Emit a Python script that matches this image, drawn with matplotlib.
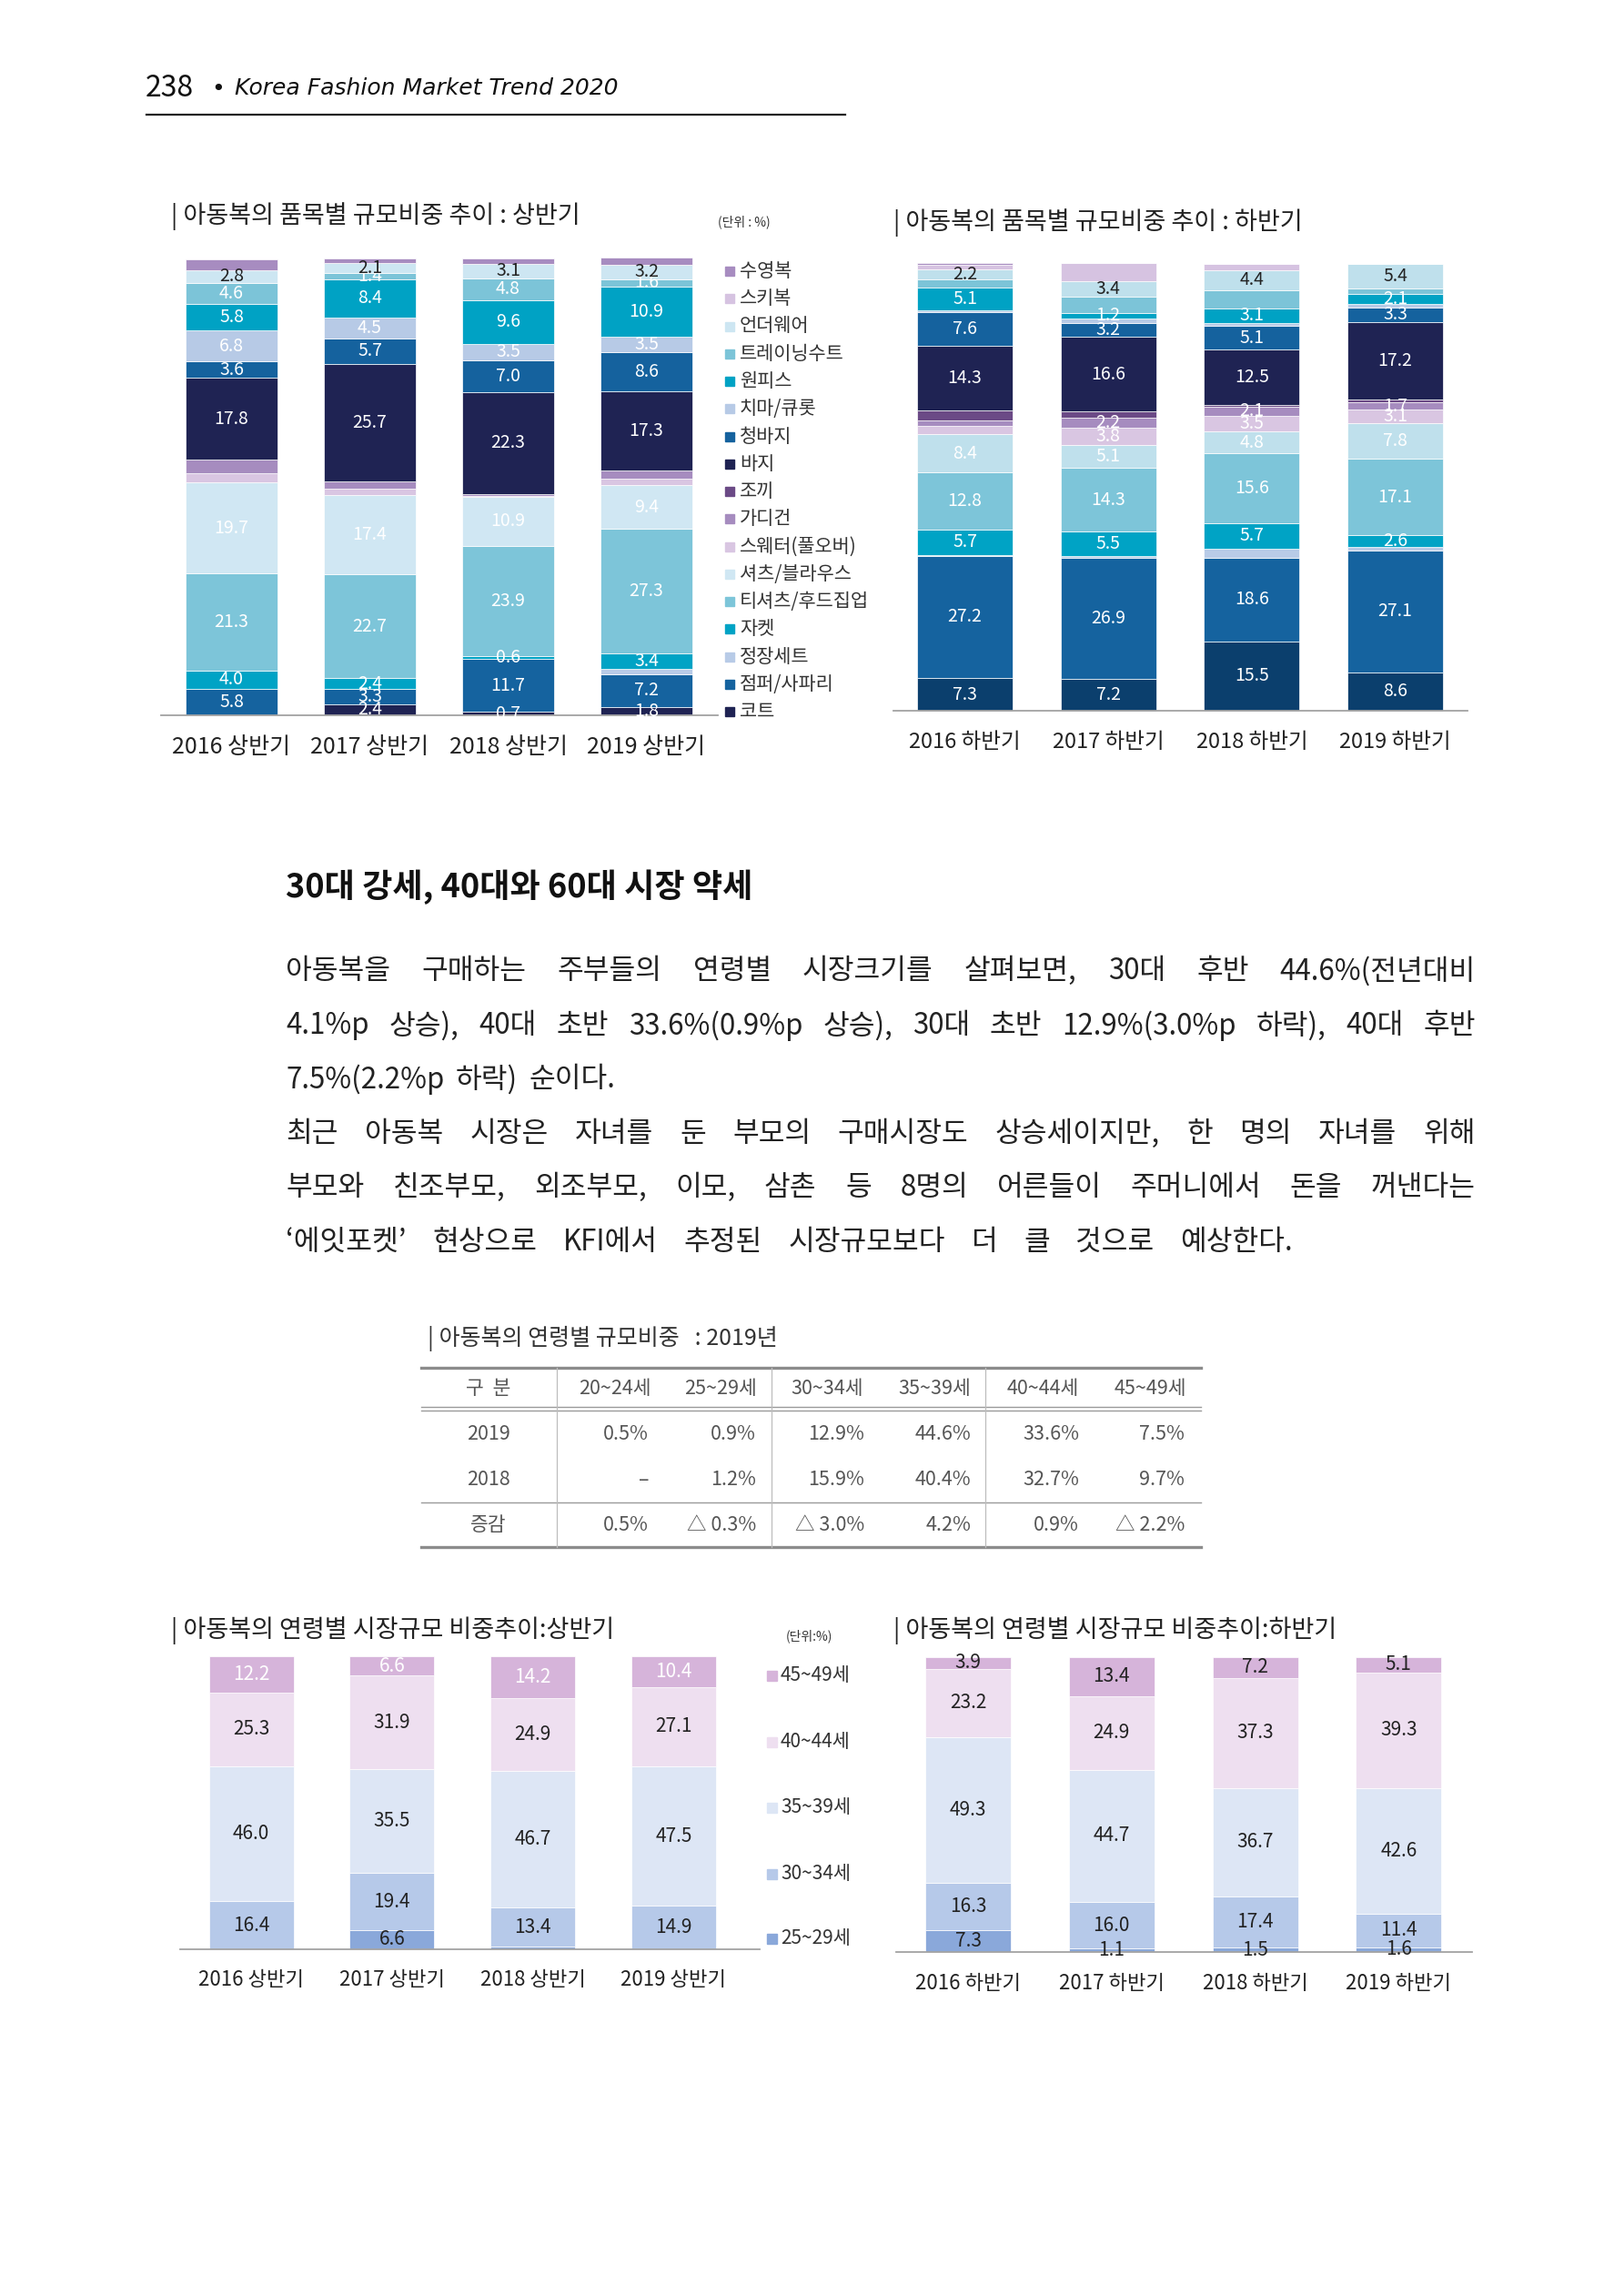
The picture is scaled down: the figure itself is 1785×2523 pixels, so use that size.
import matplotlib
matplotlib.use('Agg')
import matplotlib.pyplot as plt
from matplotlib.lines import Line2D
from matplotlib.patches import Rectangle

W, H = 1785, 2523
KR = ['Noto Sans CJK KR', 'DejaVu Sans']
NARROW = ['Liberation Sans Narrow', 'Noto Sans CJK KR', 'DejaVu Sans']
plt.rcParams['font.family'] = KR

# ---------------- data ----------------
# stacking order, bottom -> top
items = ['코트', '점퍼/사파리', '정장세트', '자켓', '티셔츠/후드집업', '셔츠/블라우스',
         '스웨터(풀오버)', '가디건', '조끼', '바지', '청바지', '치마/큐롯', '원피스',
         '트레이닝수트', '언더웨어', '스키복', '수영복']

h1_years = ['2016 상반기', '2017 상반기', '2018 상반기', '2019 상반기']
h2_years = ['2016 하반기', '2017 하반기', '2018 하반기', '2019 하반기']

h1_share = [
    [0.0, 2.4, 0.7, 1.8],       # 코트
    [5.8, 3.3, 11.7, 7.2],      # 점퍼/사파리
    [0.0, 0.0, 0.0, 1.1],       # 정장세트
    [4.0, 2.4, 0.6, 3.4],       # 자켓
    [21.3, 22.7, 23.9, 27.3],   # 티셔츠/후드집업
    [19.7, 17.4, 10.9, 9.4],    # 셔츠/블라우스
    [2.1, 1.3, 0.2, 1.5],       # 스웨터
    [3.0, 1.5, 0.3, 1.7],       # 가디건
    [0.0, 0.0, 0.0, 0.0],       # 조끼
    [17.8, 25.7, 22.3, 17.3],   # 바지
    [3.6, 5.7, 7.0, 8.6],       # 청바지
    [6.8, 4.5, 3.5, 3.5],       # 치마/큐롯
    [5.8, 8.4, 9.6, 10.9],      # 원피스
    [4.6, 1.4, 4.8, 1.6],       # 트레이닝수트
    [2.8, 2.1, 3.1, 3.2],       # 언더웨어
    [0.0, 0.0, 0.0, 0.0],       # 스키복
    [2.3, 1.1, 1.2, 1.5],       # 수영복
]

h2_share = [
    [7.3, 7.2, 15.5, 8.6],      # 코트
    [27.2, 26.9, 18.6, 27.1],   # 점퍼/사파리
    [0.2, 0.3, 2.0, 0.8],       # 정장세트
    [5.7, 5.5, 5.7, 2.6],       # 자켓
    [12.8, 14.3, 15.6, 17.1],   # 티셔츠/후드집업
    [8.4, 5.1, 4.8, 7.8],       # 셔츠/블라우스
    [1.8, 3.8, 3.5, 3.1],       # 스웨터
    [1.4, 2.2, 2.1, 1.7],       # 가디건
    [2.2, 1.4, 0.3, 0.6],       # 조끼
    [14.3, 16.6, 12.5, 17.2],   # 바지
    [7.6, 3.2, 5.1, 3.3],       # 청바지
    [0.3, 1.0, 0.8, 0.8],       # 치마/큐롯
    [5.1, 1.2, 3.1, 2.1],       # 원피스
    [1.8, 3.6, 4.2, 1.4],       # 트레이닝수트
    [2.2, 3.4, 4.4, 5.4],       # 언더웨어
    [1.0, 4.0, 1.4, 0.0],       # 스키복
    [0.5, 0.0, 0.0, 0.0],       # 수영복
]

h1_labeled = ['코트', '점퍼/사파리', '자켓', '티셔츠/후드집업', '셔츠/블라우스', '바지',
              '청바지', '치마/큐롯', '원피스', '트레이닝수트', '언더웨어']
h2_labeled = ['코트', '점퍼/사파리', '자켓', '티셔츠/후드집업', '셔츠/블라우스',
              '스웨터(풀오버)', '가디건', '바지', '청바지', '원피스', '언더웨어']
h2_unlabeled = [('2016 하반기', '스웨터(풀오버)'), ('2016 하반기', '가디건')]

ages = ['25~29세', '30~34세', '35~39세', '40~44세', '45~49세']
age_h1 = [
    [0.0, 6.6, 0.8, 0.0],
    [16.4, 19.4, 13.4, 14.9],
    [46.0, 35.5, 46.7, 47.5],
    [25.3, 31.9, 24.9, 27.1],
    [12.2, 6.6, 14.2, 10.4],
]
age_h2 = [
    [7.3, 1.1, 1.5, 1.6],
    [16.3, 16.0, 17.4, 11.4],
    [49.3, 44.7, 36.7, 42.6],
    [23.2, 24.9, 37.3, 39.3],
    [3.9, 13.4, 7.2, 5.1],
]

table_cols = ['20~24세', '25~29세', '30~34세', '35~39세', '40~44세', '45~49세']
share_2019 = [0.5, 0.9, 12.9, 44.6, 33.6, 7.5]
share_2018 = [None, 1.2, 15.9, 40.4, 32.7, 9.7]

para_lines = [
    '아동복을 구매하는 주부들의 연령별 시장크기를 살펴보면, 30대 후반 44.6%(전년대비',
    '4.1%p 상승), 40대 초반 33.6%(0.9%p 상승), 30대 초반 12.9%(3.0%p 하락), 40대 후반',
    '7.5%(2.2%p 하락) 순이다.',
    '최근 아동복 시장은 자녀를 둔 부모의 구매시장도 상승세이지만, 한 명의 자녀를 위해',
    '부모와 친조부모, 외조부모, 이모, 삼촌 등 8명의 어른들이 주머니에서 돈을 꺼낸다는',
    '‘에잇포켓’ 현상으로 KFI에서 추정된 시장규모보다 더 클 것으로 예상한다.',
]

# ---------------- colours ----------------
item_colors = {
    '수영복': '#a78cc0', '스키복': '#d6c3e1', '언더웨어': '#cde6f2', '트레이닝수트': '#7cc4d8',
    '원피스': '#00a2c4', '치마/큐롯': '#b7cae6', '청바지': '#15629e', '바지': '#1f2353',
    '조끼': '#6b4a86', '가디건': '#a68cbf', '스웨터(풀오버)': '#d9c6e2', '셔츠/블라우스': '#d0e7f3',
    '티셔츠/후드집업': '#7dc5d9', '자켓': '#00a3c5', '정장세트': '#b8cbe7', '점퍼/사파리': '#15639f',
    '코트': '#1f2353',
}
item_colors_h2 = dict(item_colors, 코트='#0b3f6d', 언더웨어='#bfe0ec', **{'셔츠/블라우스': '#bfe0ec'})
age_colors = {'25~29세': '#8aa8da', '30~34세': '#b6c9e9', '35~39세': '#dde6f5',
              '40~44세': '#eedff0', '45~49세': '#d6b4da'}

fig = plt.figure(figsize=(W / 100, H / 100), dpi=100)
renderer = fig.canvas.get_renderer()


def fx(x):
    return x / W


def fy(y):
    return 1 - y / H


def ftext(x, y, s, **kw):
    return fig.text(fx(x), fy(y), s, **kw)


def fline(xs, ys, lw=1.0, color='#888888'):
    fig.add_artist(Line2D([fx(v) for v in xs], [fy(v) for v in ys], lw=lw, color=color))


def make_axes(x0, x1, y_top, y_base, c0, step):
    ax = fig.add_axes([fx(x0), fy(y_base), (x1 - x0) / W, (y_base - y_top) / H])
    ax.set_xlim((x0 - c0) / step, (x1 - c0) / step)
    ax.set_ylim(0, 100)
    for s in ['top', 'right', 'left']:
        ax.spines[s].set_visible(False)
    ax.spines['bottom'].set_color('#a3a3a3')
    ax.spines['bottom'].set_linewidth(1.3)
    ax.set_yticks([])
    ax.set_xticks([])
    ax.patch.set_alpha(0)
    return ax


def stack(ax, rows, names, colors, years, width, label_color, fs, family):
    bottom = [0.0] * len(years)
    for name, vals in zip(names, rows):
        ax.bar(range(len(years)), vals, width, bottom=bottom, color=colors[name],
               edgecolor='white', linewidth=0.5)
        for i, v in enumerate(vals):
            col = label_color(years[i], name, v)
            if col:
                ax.text(i, bottom[i] + v / 2, f'{v:.1f}', ha='center', va='center',
                        color=col, fontsize=fs, family=family, clip_on=False)
        bottom = [b + v for b, v in zip(bottom, vals)]


def year_labels(ax, years, dy_px, fs, family):
    h_px = ax.get_position().height * H
    for i, y in enumerate(years):
        ax.text(i, -dy_px / h_px, y, ha='center', va='center', fontsize=fs, family=family,
                color='#222222', transform=ax.get_xaxis_transform())


def legend(names, colors, x_sq, x_txt, ys, size, fs, family):
    for n, y in zip(names, ys):
        fig.add_artist(Rectangle((fx(x_sq), fy(y + size / 2)), size / W, size / H,
                                 color=colors[n], transform=fig.transFigure))
        ftext(x_txt, y, n, ha='left', va='center', fontsize=fs, family=family, color='#333333')


# ---------------- page header ----------------
ftext(160, 97, '238', ha='left', va='center', fontsize=23, family=NARROW, color='#111111')
ftext(232, 98, '•', ha='left', va='center', fontsize=18, family=['DejaVu Sans'], color='#111111')
ftext(258, 97, 'Korea Fashion Market Trend 2020', ha='left', va='center', fontsize=18,
      family=['DejaVu Sans'], style='italic', color='#111111')
fline([161, 929], [126, 126], lw=1.6, color='#222222')

# ---------------- top-left: 상반기 items ----------------
ftext(188, 238, '| 아동복의 품목별 규모비중 추이 : 상반기', ha='left', va='center', fontsize=19.5, color='#222222')
ftext(789, 244, '(단위 : %)', ha='left', va='center', fontsize=10, color='#333333')
ax1 = make_axes(177, 789, 283, 786, 254.5, 152)


def h1_label(year, name, v):
    if v <= 0 or name not in h1_labeled:
        return None
    return '#222222' if name == '언더웨어' else 'white'


stack(ax1, h1_share, items, item_colors, h1_years, 101 / 152, h1_label, 14, KR)
year_labels(ax1, h1_years, 35, 18, KR)
legend(items[::-1], item_colors, 797, 813, [298 + 30.25 * k for k in range(len(items))], 10, 15, KR)

# ---------------- top-right: 하반기 items ----------------
ftext(982, 245, '| 아동복의 품목별 규모비중 추이 : 하반기', ha='left', va='center', fontsize=19.5, color='#222222')
ax2 = make_axes(982, 1613, 288, 781, 1060.5, 157.7)


def h2_label(year, name, v):
    if v <= 0 or name not in h2_labeled or (year, name) in h2_unlabeled:
        return None
    return '#222222' if name == '언더웨어' else 'white'


stack(ax2, h2_share, items, item_colors_h2, h2_years, 105 / 157.7, h2_label, 14, KR)
year_labels(ax2, h2_years, 35, 17, KR)

# ---------------- heading & paragraph ----------------
ftext(314, 975, '30대 강세, 40대와 60대 시장 약세', ha='left', va='center', fontsize=26,
      weight='bold', color='#111111')

para_y = [1067, 1127, 1186, 1246, 1305, 1365]
para_end = [1622, 1622, 676, 1622, 1622, 1421]
for line, y, x1 in zip(para_lines, para_y, para_end):
    words = line.split(' ')
    texts = [ftext(0, y, w, ha='left', va='center', fontsize=22.5, color='#222222') for w in words]
    widths = [t.get_window_extent(renderer).width for t in texts]
    gap = (x1 - 314 - sum(widths)) / max(len(words) - 1, 1)
    x = 314
    for t, w in zip(texts, widths):
        t.set_x(fx(x))
        x += w + gap

# ---------------- table ----------------
ftext(470, 1471, '| 아동복의 연령별 규모비중   : 2019년', ha='left', va='center', fontsize=18,
      family=NARROW, color='#333333')
tx0, tx1 = 463, 1320
fline([tx0, tx1], [1503, 1503], lw=2.4, color='#8c8c8c')
fline([tx0, tx1], [1546, 1546], lw=1.0, color='#9a9a9a')
fline([tx0, tx1], [1550, 1550], lw=1.0, color='#9a9a9a')
fline([tx0, tx1], [1651, 1651], lw=1.0, color='#9a9a9a')
fline([tx0, tx1], [1700, 1700], lw=2.4, color='#8c8c8c')
for vx in [612, 848, 1083]:
    fline([vx, vx], [1503, 1700], lw=0.9, color='#bdbdbd')

head_cx = [676, 792, 909, 1027, 1146, 1264]
val_rx = [713, 831, 950, 1067, 1186, 1302]
tcol = '#555555'
ftext(537, 1526, '구  분', ha='center', va='center', fontsize=15.5, family=NARROW, color=tcol)
for c, x in zip(table_cols, head_cx):
    ftext(x, 1526, c, ha='center', va='center', fontsize=15.5, family=NARROW, color=tcol)


def pct(v):
    return '–' if v is None else f'{v:.1f}%'


def change(a, b):
    d = round(a - (b or 0.0), 1)
    return f'△ {abs(d):.1f}%' if d < 0 else f'{d:.1f}%'


rows = [('2019', [pct(v) for v in share_2019]),
        ('2018', [pct(v) for v in share_2018]),
        ('증감', [change(a, b) for a, b in zip(share_2019, share_2018)])]
for (name, vals), y in zip(rows, [1576, 1626, 1676]):
    ftext(537, y, name, ha='center', va='center', fontsize=15.5, family=NARROW, color=tcol)
    for s, x in zip(vals, val_rx):
        ftext(x, y, s, ha='right', va='center', fontsize=15.5, family=NARROW, color=tcol)

# ---------------- bottom-left: age 상반기 ----------------
ftext(188, 1792, '| 아동복의 연령별 시장규모 비중추이:상반기', ha='left', va='center', fontsize=19.5,
      family=NARROW, color='#222222')
ftext(864, 1798, '(단위:%)', ha='left', va='center', fontsize=10, family=NARROW, color='#333333')
ax3 = make_axes(198, 835, 1820, 2142, 276, 154.8)


def a1_label(year, name, v):
    if v < 1:
        return None
    return 'white' if name == '45~49세' else '#222222'


stack(ax3, age_h1, ages, age_colors, h1_years, 93 / 154.8, a1_label, 15, NARROW)
year_labels(ax3, h1_years, 34, 16, NARROW)
legend(ages[::-1], age_colors, 843, 858, [1841, 1914, 1986, 2059, 2130], 11, 15, NARROW)

# ---------------- bottom-right: age 하반기 ----------------
ftext(982, 1792, '| 아동복의 연령별 시장규모 비중추이:하반기', ha='left', va='center', fontsize=19.5,
      family=NARROW, color='#222222')
ax4 = make_axes(985, 1618, 1821, 2145, 1064, 157.8)


def a2_label(year, name, v):
    return '#222222' if v > 0 else None


stack(ax4, age_h2, ages, age_colors, h2_years, 94 / 157.8, a2_label, 15, NARROW)
year_labels(ax4, h2_years, 34, 16, NARROW)

fig.savefig('out.png', dpi=100, facecolor='white')
